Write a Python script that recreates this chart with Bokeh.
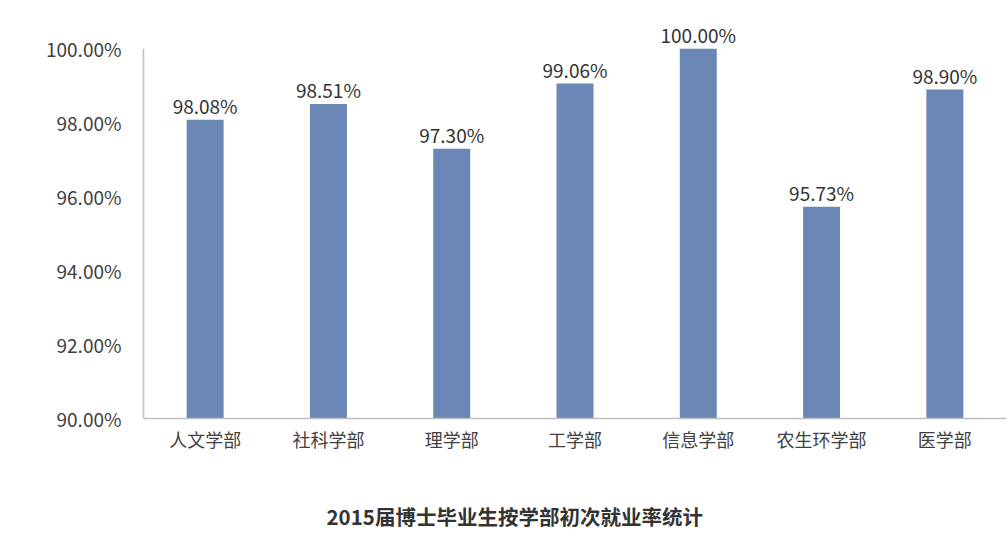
from bokeh.plotting import figure
from bokeh.models import ColumnDataSource, FactorRange, Range1d, PrintfTickFormatter, Title, SingleIntervalTicker
from bokeh.core.properties import value
from bokeh.embed import file_html
from bokeh.resources import INLINE

categories = ["人文学部", "社科学部", "理学部", "工学部", "信息学部", "农生环学部", "医学部"]
rates = [98.08, 98.51, 97.30, 99.06, 100.00, 95.73, 98.90]
labels = ["98.08%", "98.51%", "97.30%", "99.06%", "100.00%", "95.73%", "98.90%"]
title_text = "2015届博士毕业生按学部初次就业率统计"

FONT = "Noto Sans CJK SC"

src = ColumnDataSource(dict(cat=categories, rate=rates, label=labels))

p = figure(frame_width=863, frame_height=414, x_range=FactorRange(*categories, range_padding=0),
           y_range=Range1d(90, 101.2), output_backend="svg", toolbar_location=None,
           min_border_left=143, min_border_right=2, min_border_top=4, min_border_bottom=4)
p.outline_line_color = None
p.xgrid.grid_line_color = None
p.ygrid.grid_line_color = None
p.background_fill_color = "white"
p.border_fill_color = "white"

p.vbar(x="cat", top="rate", bottom=90, width=0.3, source=src, color="#6b87b5", line_color=None)
p.text(x="cat", y="rate", text="label", source=src, text_align="center", text_baseline="bottom",
       y_offset=-1, text_font=value(FONT), text_font_size="19px", text_color="#333333")

p.yaxis.ticker = SingleIntervalTicker(interval=2)
p.yaxis.formatter = PrintfTickFormatter(format="%.2f%%")
p.yaxis.bounds = (90, 100)
for ax in (p.xaxis, p.yaxis):
    ax.axis_line_color = "#c0c0c0"
    ax.axis_line_width = 1.5
    ax.major_tick_line_color = None
    ax.minor_tick_line_color = None
    ax.major_tick_out = 0
    ax.major_tick_in = 0
    ax.minor_tick_out = 0
    ax.major_label_text_font = FONT
    ax.major_label_text_color = "#404040"
p.yaxis.major_label_text_font_size = "19px"
p.xaxis.major_label_text_font_size = "18px"
p.yaxis.major_label_standoff = 22
p.xaxis.major_label_standoff = 7

t = Title(text=title_text, align="left", offset=183, text_font=FONT, text_font_size="20.5px",
          text_font_style="bold", text_color="#333333", standoff=89)
p.add_layout(t, "below")

open("out.html", "w").write(file_html(p, INLINE))
